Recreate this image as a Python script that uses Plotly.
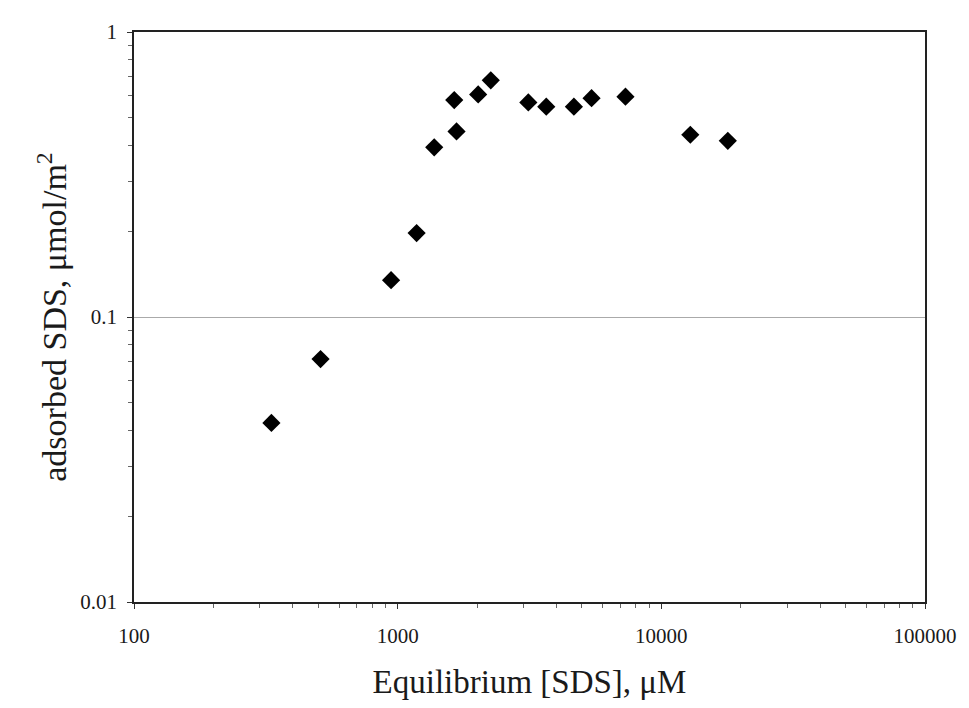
import plotly.graph_objects as go

sds_eq_uM = [332, 510, 944, 1180, 1376, 1639, 1672, 2020, 2255, 3130, 3661, 4660, 5437, 7311, 12880, 17870]
adsorbed = [0.0425, 0.0712, 0.1347, 0.197, 0.394, 0.577, 0.448, 0.604, 0.677, 0.566, 0.547, 0.547, 0.586, 0.593, 0.436, 0.415]

x_tickvals = [100, 1000, 10000, 100000]
x_ticktext = ["100", "1000", "10000", "100000"]
y_tickvals = [0.01, 0.1, 1]
y_ticktext = ["0.01", "0.1", "1"]

x_minor = [m * d for d in [100, 1000, 10000] for m in range(2, 10)]
y_minor = [m * d for d in [0.01, 0.1] for m in range(2, 10)]

fig = go.Figure()
fig.add_trace(go.Scatter(
    x=sds_eq_uM, y=adsorbed, mode="markers",
    marker=dict(symbol="diamond", size=14, color="black"),
    showlegend=False,
))

font_family = "Liberation Serif, Times New Roman, serif"
fig.update_layout(
    width=961, height=700,
    margin=dict(l=126, r=42, t=16, b=106),
    paper_bgcolor="white", plot_bgcolor="white",
    font=dict(family=font_family, color="#1a1a1a"),
)
fig.update_xaxes(
    type="log", range=[2, 5],
    tickvals=x_tickvals, ticktext=x_ticktext,
    tickfont=dict(size=21, family=font_family),
    ticks="outside", ticklen=5, tickcolor="#333",
    showline=True, linecolor="#222", linewidth=1.5, mirror=True,
    showgrid=False, zeroline=False,
    ticklabelstandoff=9,
    minor=dict(tickvals=x_minor, ticks="outside", ticklen=4, tickcolor="#666", showgrid=False),
    title=dict(text="Equilibrium [SDS], μM", font=dict(size=33, family=font_family), standoff=23),
)
fig.update_yaxes(
    type="log", range=[-2, 0],
    tickvals=y_tickvals, ticktext=y_ticktext,
    tickfont=dict(size=21, family=font_family),
    ticks="outside", ticklen=5, tickcolor="#333",
    showline=True, linecolor="#222", linewidth=1.5, mirror=True,
    showgrid=True, gridcolor="#aaa", gridwidth=1, zeroline=False,
    ticklabelstandoff=6,
    minor=dict(tickvals=y_minor, ticks="outside", ticklen=4, tickcolor="#666", showgrid=False),
    title=dict(text="adsorbed SDS, μmol/m<sup>2</sup>", font=dict(size=34, family=font_family), standoff=3),
)

fig.write_html("out.html")
